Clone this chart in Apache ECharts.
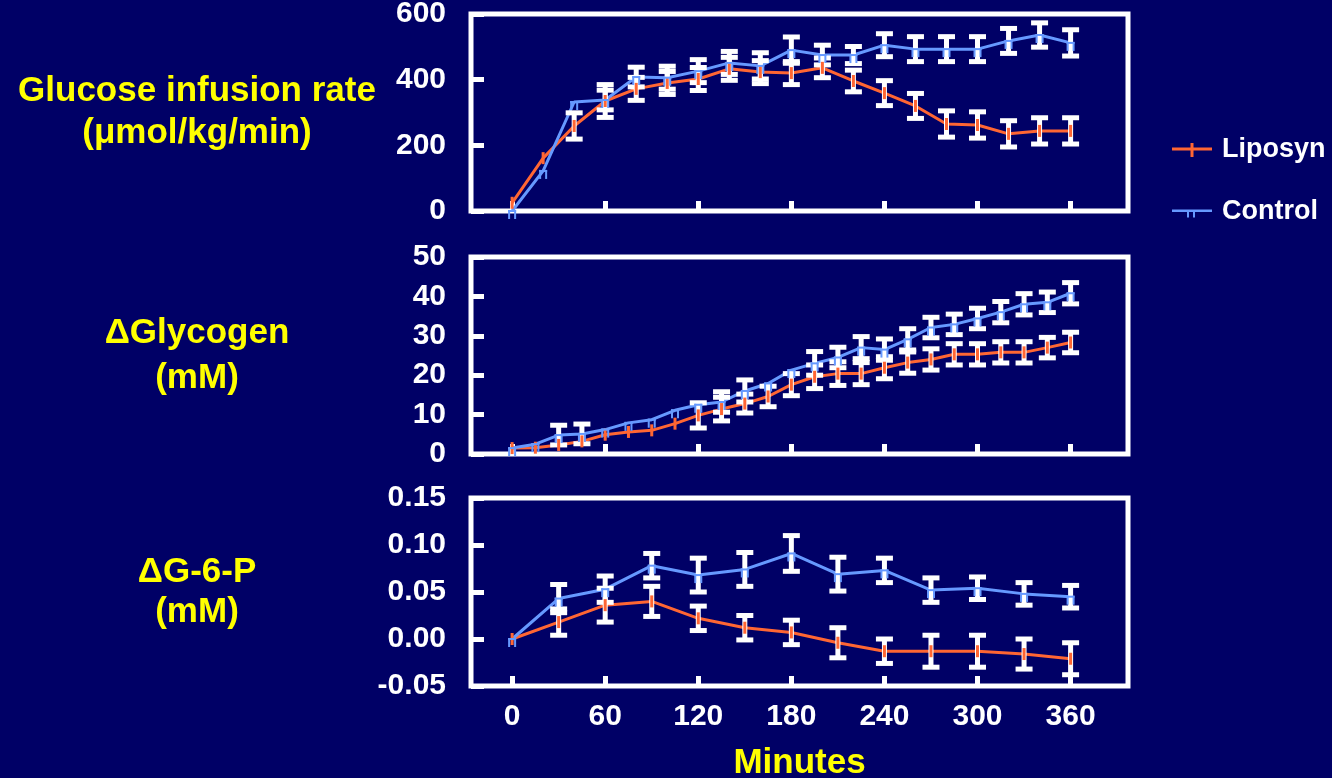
<!DOCTYPE html>
<html>
<head>
<meta charset="utf-8">
<title>Glucose infusion, glycogen and G-6-P</title>
<script src="https://cdn.jsdelivr.net/npm/echarts@6.0.0/dist/echarts.min.js"></script>
<style>
  html, body { margin: 0; padding: 0; background: #000066; }
  #chart { width: 1332px; height: 778px; }
</style>
</head>
<body>
<div id="chart"></div>
<script>
// Glucose infusion rate (µmol/kg/min), sampled every 20 min
const girTimes = [0, 20, 40, 60, 80, 100, 120, 140, 160, 180, 200, 220, 240, 260, 280, 300, 320, 340, 360];
const girLiposyn = [25, 161, 259, 335, 372, 390, 402, 433, 423, 420, 436, 396, 359, 320, 265, 262, 235, 244, 244];
const girLiposynSem = [0, 5, 40, 50, 35, 35, 35, 35, 35, 35, 30, 33, 38, 38, 40, 40, 40, 40, 40];
const girControl = [0, 122, 332, 338, 408, 406, 426, 451, 442, 490, 475, 475, 505, 493, 493, 493, 518, 536, 512];
const girControlSem = [0, 5, 5, 30, 30, 35, 35, 35, 40, 40, 30, 26, 35, 38, 38, 38, 38, 37, 40];

// ΔGlycogen (mM), sampled every 15 min
const glyTimes = [0, 15, 30, 45, 60, 75, 90, 105, 120, 135, 150, 165, 180, 195, 210, 225, 240, 255, 270, 285, 300, 315, 330, 345, 360];
const glyLiposyn = [1.5, 1.6, 2.3, 3.2, 4.9, 5.6, 6.0, 7.7, 9.8, 11.4, 12.8, 14.6, 17.6, 19.6, 20.4, 20.4, 21.9, 23.2, 24.0, 25.3, 25.3, 25.8, 25.8, 27.0, 28.3];
const glyLiposynSem = [0.3, 0.3, 0.4, 0.4, 0.4, 0.4, 0.4, 0.5, 3.2, 3.0, 2.4, 2.6, 2.8, 3.0, 3.0, 2.8, 2.8, 2.7, 2.7, 2.7, 2.7, 2.7, 2.7, 2.6, 2.6];
const glyControl = [1.5, 2.5, 4.8, 5.1, 6.2, 7.9, 8.7, 11.1, 12.5, 13.2, 16.0, 17.9, 21.3, 23.0, 24.5, 27.0, 26.5, 29.1, 32.1, 32.9, 34.4, 36.0, 38.0, 38.5, 40.8];
const glyControlSem = [0.3, 0.3, 2.5, 2.5, 0.5, 0.5, 0.5, 0.5, 0.5, 2.6, 2.8, 0.6, 0.6, 3.0, 2.6, 2.8, 2.7, 2.7, 2.6, 2.6, 2.6, 2.7, 2.7, 2.6, 2.7];

// ΔG-6-P (mM), sampled every 30 min
const g6pTimes = [0, 30, 60, 90, 120, 150, 180, 210, 240, 270, 300, 330, 360];
const g6pLiposyn = [0, 0.018, 0.036, 0.040, 0.022, 0.012, 0.007, -0.004, -0.013, -0.013, -0.013, -0.016, -0.021];
const g6pLiposynSem = [0, 0.014, 0.018, 0.016, 0.013, 0.013, 0.013, 0.016, 0.013, 0.017, 0.017, 0.016, 0.017];
const g6pControl = [0, 0.043, 0.053, 0.078, 0.068, 0.074, 0.091, 0.069, 0.073, 0.052, 0.054, 0.048, 0.045];
const g6pControlSem = [0, 0.015, 0.014, 0.013, 0.018, 0.018, 0.019, 0.018, 0.013, 0.013, 0.012, 0.012, 0.012];

// Axis tick labels
const minuteTicks = [0, 60, 120, 180, 240, 300, 360];
const panelTitles = [
  'Glucose infusion rate\n(\u03bcmol/kg/min)',
  '\u0394Glycogen\n(mM)',
  '\u0394G-6-P\n(mM)'
];
const xTitle = 'Minutes';
const seriesNames = ['Liposyn', 'Control'];

const COLORS = { liposyn: '#FF6633', control: '#6699FF', white: '#FFFFFF', yellow: '#FFFF00', bg: '#000066' };
const FONT = '"Liberation Sans", Arial, Helvetica, sans-serif';

const zip = (t, v, s) => t.map((x, i) => s ? [x, v[i], s[i]] : [x, v[i]]);

// White "I" shaped error bar, skipped when smaller than the marker
function errorBarItem(params, api) {
  const t = api.value(0), v = api.value(1), s = api.value(2);
  const hi = api.coord([t, v + s]);
  const lo = api.coord([t, v - s]);
  if (lo[1] - hi[1] < 8) return null;
  const x = hi[0];
  const st = { fill: COLORS.white };
  return {
    type: 'group',
    children: [
      { type: 'rect', shape: { x: x - 2.5, y: hi[1], width: 5, height: lo[1] - hi[1] }, style: st },
      { type: 'rect', shape: { x: x - 8.5, y: hi[1] - 2.5, width: 17, height: 5 }, style: st },
      { type: 'rect', shape: { x: x - 8.5, y: lo[1] - 2.5, width: 17, height: 5 }, style: st }
    ]
  };
}

// Liposyn marker: short vertical tick through the point
function liposynMarker(params, api) {
  const p = api.coord([api.value(0), api.value(1)]);
  return { type: 'rect', shape: { x: p[0] - 1.5, y: p[1] - 6, width: 3, height: 12 }, style: { fill: COLORS.liposyn } };
}

// Control marker: two short legs hanging below the point
function controlMarker(params, api) {
  const p = api.coord([api.value(0), api.value(1)]);
  const st = { fill: COLORS.control };
  return {
    type: 'group',
    children: [
      { type: 'rect', shape: { x: p[0] - 4, y: p[1] - 1, width: 8, height: 2 }, style: st },
      { type: 'rect', shape: { x: p[0] - 4, y: p[1] - 1, width: 2, height: 9 }, style: st },
      { type: 'rect', shape: { x: p[0] + 2, y: p[1] - 1, width: 2, height: 9 }, style: st }
    ]
  };
}

function panelSeries(idx, times, lipo, lipoSem, ctrl, ctrlSem) {
  const common = { xAxisIndex: idx, yAxisIndex: idx, silent: true, animation: false };
  return [
    Object.assign({ type: 'line', name: seriesNames[0], data: zip(times, lipo), symbol: 'none',
      lineStyle: { color: COLORS.liposyn, width: 3 }, itemStyle: { color: COLORS.liposyn }, z: 2 }, common),
    Object.assign({ type: 'line', name: seriesNames[1], data: zip(times, ctrl), symbol: 'none',
      lineStyle: { color: COLORS.control, width: 3 }, itemStyle: { color: COLORS.control }, z: 2 }, common),
    Object.assign({ type: 'custom', name: 'err-l' + idx, data: zip(times, lipo, lipoSem), renderItem: errorBarItem, z: 3 }, common),
    Object.assign({ type: 'custom', name: 'err-c' + idx, data: zip(times, ctrl, ctrlSem), renderItem: errorBarItem, z: 3 }, common),
    Object.assign({ type: 'custom', name: 'mk-l' + idx, data: zip(times, lipo), renderItem: liposynMarker, z: 4 }, common),
    Object.assign({ type: 'custom', name: 'mk-c' + idx, data: zip(times, ctrl), renderItem: controlMarker, z: 4 }, common)
  ];
}

const grids = [
  { left: 471, top: 14, width: 657, height: 197 },
  { left: 471, top: 257, width: 657, height: 197 },
  { left: 471, top: 498, width: 657, height: 188 }
].map(g => Object.assign(g, {
  show: true, borderColor: COLORS.white, borderWidth: 5, backgroundColor: 'transparent',
  containLabel: false, outerBoundsMode: 'none'
}));

const xAxes = [0, 1, 2].map(i => ({
  type: 'value', gridIndex: i, min: -26.5, max: 397, position: 'bottom',
  axisLine: { show: false, onZero: false }, splitLine: { show: false },
  axisTick: { show: true, inside: true, length: 10, customValues: minuteTicks, lineStyle: { color: COLORS.white, width: 5 } },
  axisLabel: {
    show: i === 2, customValues: minuteTicks, margin: 16,
    color: COLORS.white, fontSize: 30, fontWeight: 'bold', fontFamily: FONT
  },
  name: i === 2 ? xTitle : '', nameLocation: 'middle', nameGap: 60,
  nameTextStyle: { color: COLORS.yellow, fontSize: 35, fontWeight: 'bold', fontFamily: FONT }
}));

const yRanges = [
  { min: 0, max: 600, interval: 200, lh: 42, fmt: v => String(v) },
  { min: 0, max: 50, interval: 10, lh: 45, fmt: v => String(v) },
  { min: -0.05, max: 0.15, interval: 0.05, lh: 40, fmt: v => (Math.abs(v) < 1e-9 ? 0 : v).toFixed(2) }
];

const yAxes = yRanges.map((r, i) => ({
  type: 'value', gridIndex: i, min: r.min, max: r.max, interval: r.interval, position: 'left',
  axisLine: { show: false, onZero: false }, splitLine: { show: false },
  axisTick: { show: true, inside: true, length: 13, lineStyle: { color: COLORS.white, width: 5 } },
  axisLabel: { color: COLORS.white, fontSize: 30, fontWeight: 'bold', fontFamily: FONT, margin: 25, formatter: r.fmt },
  name: panelTitles[i], nameLocation: 'middle', nameRotate: 0, nameGap: 274,
  nameTextStyle: { color: COLORS.yellow, fontSize: 35, fontWeight: 'bold', fontFamily: FONT,
    align: 'center', verticalAlign: 'middle', lineHeight: r.lh }
}));

const option = {
  backgroundColor: COLORS.bg,
  animation: false,
  grid: grids,
  xAxis: xAxes,
  yAxis: yAxes,
  legend: {
    orient: 'vertical', left: 1167, top: 130, itemWidth: 40, itemHeight: 14, itemGap: 32,
    selectedMode: false,
    textStyle: { color: COLORS.white, fontSize: 27, fontWeight: 'bold', fontFamily: FONT, lineHeight: 30, padding: [0, 0, 0, 5] },
    data: [
      { name: seriesNames[0], icon: 'path://M0 4.5H40V7.5H0Z M18.5 0H21.5V14H18.5Z',
        itemStyle: { color: COLORS.liposyn, borderWidth: 0 } },
      { name: seriesNames[1], icon: 'path://M0 0M0 4.5H40V7H0Z M15 7H17V12.5H15Z M21 7H23V12.5H21Z M40 14',
        itemStyle: { color: COLORS.control, borderWidth: 0 } }
    ]
  },
  series: [].concat(
    panelSeries(0, girTimes, girLiposyn, girLiposynSem, girControl, girControlSem),
    panelSeries(1, glyTimes, glyLiposyn, glyLiposynSem, glyControl, glyControlSem),
    panelSeries(2, g6pTimes, g6pLiposyn, g6pLiposynSem, g6pControl, g6pControlSem)
  )
};

const chart = echarts.init(document.getElementById('chart'), null, { renderer: 'canvas' });
chart.setOption(option);
</script>
</body>
</html>
